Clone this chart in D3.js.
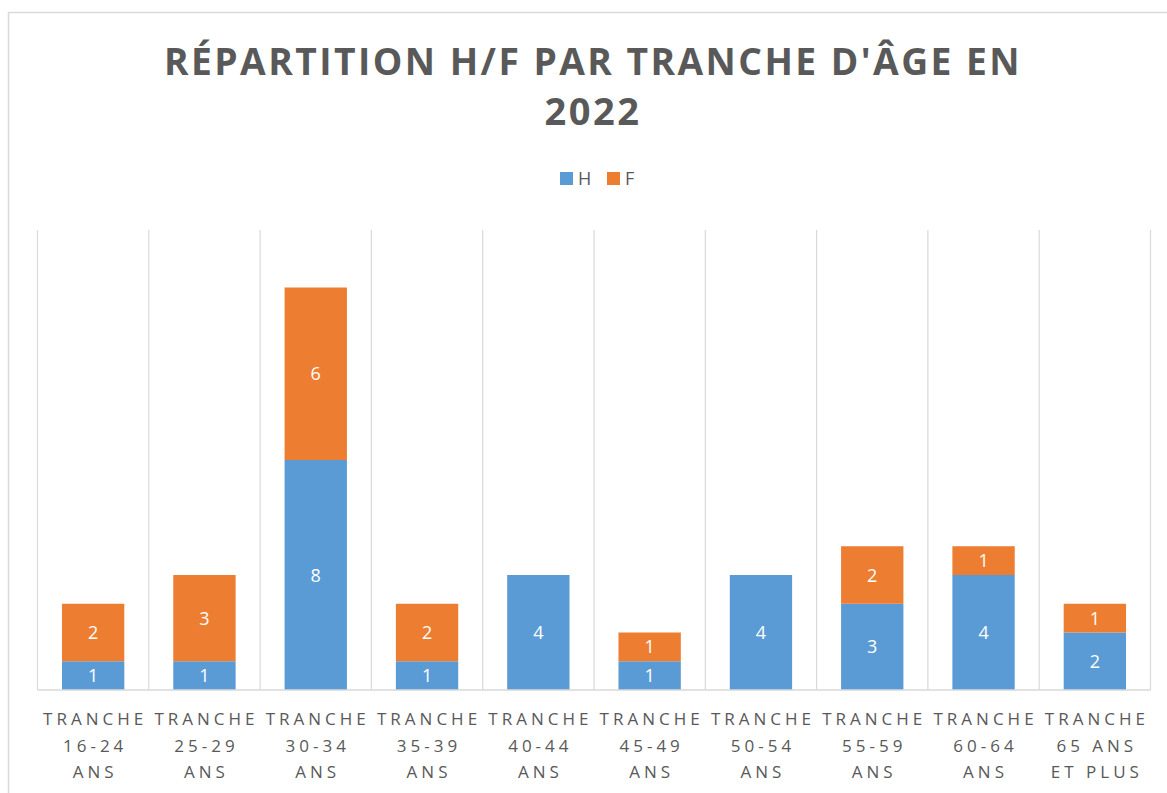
<!DOCTYPE html>
<html>
<head>
<meta charset="utf-8">
<script src="https://cdn.jsdelivr.net/npm/d3@7"></script>
<style>
  body { margin: 0; background: #fff; }
  text { font-family: "Open Sans", "Noto Sans", sans-serif; }
</style>
</head>
<body>
<div id="chart"></div>
<script>
// data
const categories = [
  ["TRANCHE", "16-24", "ANS"],
  ["TRANCHE", "25-29", "ANS"],
  ["TRANCHE", "30-34", "ANS"],
  ["TRANCHE", "35-39", "ANS"],
  ["TRANCHE", "40-44", "ANS"],
  ["TRANCHE", "45-49", "ANS"],
  ["TRANCHE", "50-54", "ANS"],
  ["TRANCHE", "55-59", "ANS"],
  ["TRANCHE", "60-64", "ANS"],
  ["TRANCHE", "65 ANS", "ET PLUS"]
];
const valuesH = [1, 1, 8, 1, 4, 1, 4, 3, 4, 2];
const valuesF = [2, 3, 6, 2, 0, 1, 0, 2, 1, 1];
const seriesNames = ["H", "F"];
const colors = ["#5B9BD5", "#ED7D31"];

const width = 1167, height = 793;
const plot = { left: 37.5, right: 1150.5, top: 230, bottom: 690 };

const svg = d3.select("#chart").append("svg")
  .attr("width", width).attr("height", height);

// chart border
svg.append("rect")
  .attr("x", 8.5).attr("y", 12.5)
  .attr("width", 1180).attr("height", 800)
  .attr("fill", "none").attr("stroke", "#d9d9d9").attr("stroke-width", 1.5);

const keys = categories.map((d, i) => i);
const x = d3.scaleBand().domain(keys).range([plot.left, plot.right]).padding(0);
const y = d3.scaleLinear().domain([0, 16]).range([plot.bottom, plot.top]);

// vertical gridlines between categories
const gridX = keys.map(k => x(k)).concat([plot.right]);
svg.append("g").selectAll("line")
  .data(gridX)
  .join("line")
  .attr("x1", d => d).attr("x2", d => d)
  .attr("y1", plot.top).attr("y2", plot.bottom)
  .attr("stroke", "#d9d9d9").attr("stroke-width", 1.2);

// stacked bars
const rows = keys.map(i => ({ i: i, H: valuesH[i], F: valuesF[i] }));
const stack = d3.stack().keys(seriesNames)(rows);
const barW = x.bandwidth() * 0.56;

const layers = svg.append("g").selectAll("g")
  .data(stack)
  .join("g")
  .attr("fill", (d, i) => colors[i]);

layers.selectAll("rect")
  .data(d => d)
  .join("rect")
  .attr("x", d => x(d.data.i) + (x.bandwidth() - barW) / 2)
  .attr("y", d => y(d[1]))
  .attr("width", barW)
  .attr("height", d => y(d[0]) - y(d[1]));

// value labels
layers.selectAll("text")
  .data((d, si) => d.map(p => ({ p: p, v: p.data[seriesNames[si]] })).filter(o => o.v > 0))
  .join("text")
  .attr("x", d => x(d.p.data.i) + x.bandwidth() / 2)
  .attr("y", d => (y(d.p[0]) + y(d.p[1])) / 2 + 6.5)
  .attr("text-anchor", "middle")
  .attr("font-size", "18px")
  .attr("fill", "#fff")
  .text(d => d.v);

// baseline
svg.append("line")
  .attr("x1", plot.left).attr("x2", plot.right)
  .attr("y1", plot.bottom).attr("y2", plot.bottom)
  .attr("stroke", "#d9d9d9").attr("stroke-width", 1.5);

// category labels
const lab = svg.append("g").selectAll("text")
  .data(categories)
  .join("text")
  .attr("text-anchor", "middle")
  .attr("font-size", "17px")
  .attr("letter-spacing", "4px")
  .attr("fill", "#595959");
lab.selectAll("tspan")
  .data((d, i) => d.map(s => ({ s: s, i: i })))
  .join("tspan")
  .attr("x", d => x(d.i) + x.bandwidth() / 2 + 2)
  .attr("y", (d, j) => 725 + j * 26.5)
  .text(d => d.s);

// title
const title = svg.append("text")
  .attr("text-anchor", "middle")
  .attr("font-size", "38px")
  .attr("font-weight", "bold")
  .attr("letter-spacing", "2.5px")
  .attr("fill", "#595959");
title.append("tspan").attr("x", 593).attr("y", 75)
  .text("RÉPARTITION H/F PAR TRANCHE D'ÂGE EN")
  .attr("textLength", 858).attr("lengthAdjust", "spacingAndGlyphs");
title.append("tspan").attr("x", 593).attr("y", 125).text("2022");

// legend
const legend = svg.append("g").selectAll("g")
  .data(seriesNames)
  .join("g")
  .attr("transform", (d, i) => `translate(${560 + i * 47}, 172)`);
legend.append("rect")
  .attr("width", 13).attr("height", 13)
  .attr("fill", (d, i) => colors[i]);
legend.append("text")
  .attr("x", 18).attr("y", 13)
  .attr("font-size", "18px")
  .attr("fill", "#595959")
  .text(d => d);
</script>
</body>
</html>
